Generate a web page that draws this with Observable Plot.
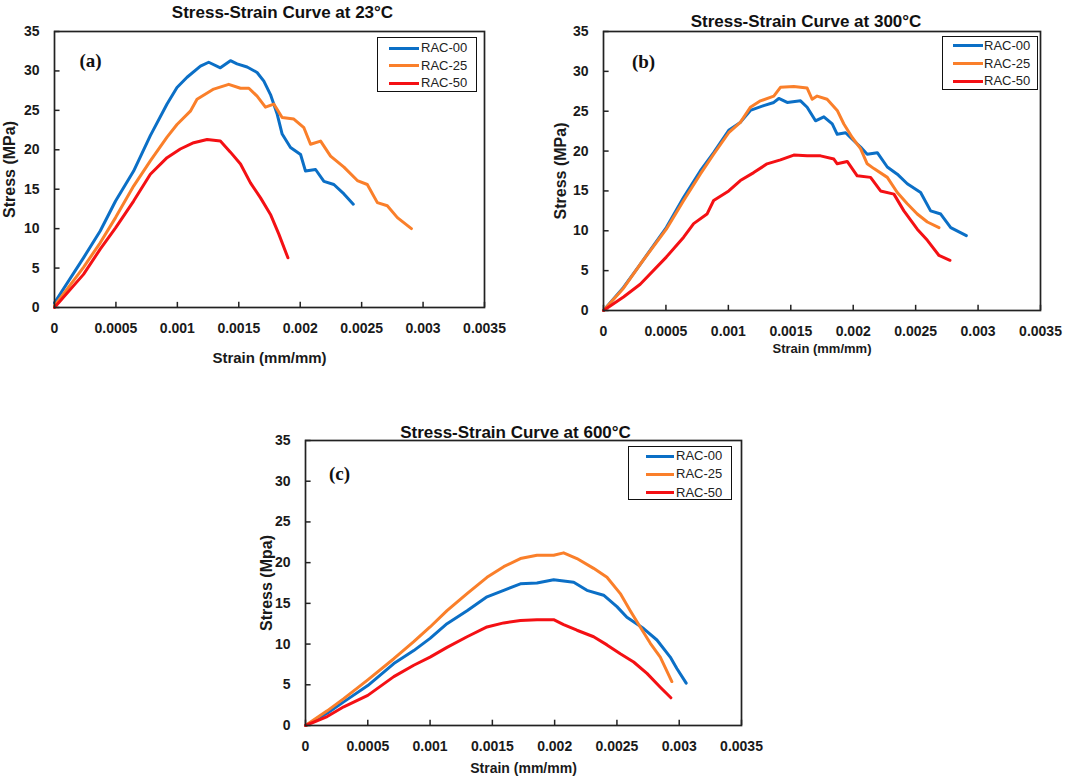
<!DOCTYPE html>
<html>
<head>
<meta charset="utf-8">
<script src="https://cdn.jsdelivr.net/npm/d3@7"></script>
<script src="https://cdn.jsdelivr.net/npm/@observablehq/plot@0.6"></script>
<style>
  body { margin: 0; background: #fff; }
  #wrap { position: relative; width: 1065px; height: 778px; overflow: hidden; background: #fff; }
  .panel { position: absolute; }
  .legend { position: absolute; border: 1.6px solid #111; background: #fff; box-sizing: border-box;
            font-family: "Liberation Sans", Arial, sans-serif; font-size: 13px; color: #222; }
  .legend .ln { position: absolute; height: 3px; }
  .legend .lb { position: absolute; line-height: 14px; }
</style>
</head>
<body>
<div id="wrap"></div>
<script>
// ---------- data ----------
const seriesNames = ["RAC-00", "RAC-25", "RAC-50"];
const seriesColors = ["#0B6FC6", "#FA7F2A", "#F41014"];
const xTicks = [0, 0.0005, 0.001, 0.0015, 0.002, 0.0025, 0.003, 0.0035];
const xTickLabels = ["0", "0.0005", "0.001", "0.0015", "0.002", "0.0025", "0.003", "0.0035"];
const yTicks = [0, 5, 10, 15, 20, 25, 30, 35];
const titles = ["Stress-Strain Curve at 23°C", "Stress-Strain Curve at 300°C", "Stress-Strain Curve at 600°C"];
const panelTags = ["(a)", "(b)", "(c)"];
const xLabels = ["Strain (mm/mm)", "Strain (mm/mm)", "Strain (mm/mm)"];
const yLabels = ["Stress (MPa)", "Stress (MPa)", "Stress (Mpa)"];

// panel (a) 23°C : [strain, stress MPa]
const a_RAC00 = [[0,0.6],[0.000236,6.3],[0.000372,9.7],[0.000497,13.5],[0.000644,17.3],[0.00078,21.8],[0.000916,25.8],[0.000997,27.9],[0.001079,29.2],[0.001188,30.6],[0.001255,31.1],[0.00135,30.4],[0.001432,31.3],[0.001486,30.9],[0.001568,30.5],[0.001649,29.8],[0.001704,28.7],[0.001758,27],[0.001813,24.5],[0.001853,22],[0.001921,20.3],[0.002003,19.4],[0.002043,17.3],[0.002125,17.5],[0.002193,16],[0.002274,15.6],[0.002356,14.4],[0.002432,13.1]];
const a_RAC25 = [[0,0.2],[0.000236,5.1],[0.000372,8.2],[0.000497,11.4],[0.000644,15.4],[0.00078,18.6],[0.000916,21.6],[0.000997,23.2],[0.001106,24.9],[0.00116,26.4],[0.001296,27.7],[0.001418,28.3],[0.001514,27.8],[0.001582,27.8],[0.001649,26.8],[0.001717,25.4],[0.001785,25.8],[0.001853,24.1],[0.001948,23.9],[0.00203,22.8],[0.002084,20.7],[0.002166,21.1],[0.002247,19.2],[0.002356,17.8],[0.002465,16.1],[0.002546,15.6],[0.002628,13.3],[0.002709,12.9],[0.002791,11.4],[0.002905,10.0]];
const a_RAC50 = [[0,0],[0.000236,4.2],[0.000372,7.4],[0.000497,10.1],[0.000644,13.5],[0.00078,16.9],[0.000916,19],[0.001024,20.1],[0.001133,20.9],[0.001242,21.3],[0.00135,21.1],[0.001432,19.7],[0.001514,18.2],[0.001595,15.8],[0.001677,13.9],[0.001758,11.8],[0.001826,9.3],[0.0019,6.3]];

// panel (b) 300°C
const b_RAC00 = [[0,0],[0.00016,2.9],[0.000294,5.8],[0.000503,10.4],[0.000642,14.2],[0.000775,17.5],[0.000882,19.8],[0.001003,22.6],[0.001096,23.6],[0.001176,25.1],[0.001283,25.7],[0.001364,26.1],[0.001404,26.6],[0.001471,26.1],[0.001578,26.3],[0.001631,25.5],[0.001698,23.8],[0.001765,24.3],[0.001832,23.4],[0.001872,22.1],[0.001939,22.3],[0.002005,21.3],[0.002059,20.5],[0.002112,19.6],[0.002193,19.8],[0.002273,18],[0.002353,17.1],[0.002433,15.9],[0.00254,14.8],[0.00262,12.5],[0.002701,12.1],[0.002781,10.4],[0.002906,9.4]];
const b_RAC25 = [[0,0],[0.00016,2.8],[0.000294,5.8],[0.000503,10.2],[0.000642,13.8],[0.000775,17.1],[0.000882,19.6],[0.001003,22.3],[0.001096,23.6],[0.001176,25.5],[0.001257,26.3],[0.001364,26.9],[0.001417,28],[0.001524,28.1],[0.001631,27.9],[0.001671,26.5],[0.001711,26.9],[0.001791,26.5],[0.001872,25.1],[0.001925,23.4],[0.001992,21.7],[0.002059,20.3],[0.002112,18.4],[0.002166,17.8],[0.002273,16.7],[0.002353,14.8],[0.002433,13.4],[0.002513,12.1],[0.002594,11.1],[0.002687,10.4]];
const b_RAC50 = [[0,0],[0.00016,1.7],[0.000294,3.3],[0.000503,6.7],[0.000642,9.2],[0.000722,10.9],[0.000829,12.1],[0.000882,13.8],[0.001003,15],[0.001096,16.3],[0.001203,17.3],[0.00131,18.4],[0.001417,18.9],[0.001524,19.5],[0.001631,19.4],[0.001738,19.4],[0.001845,19],[0.001872,18.4],[0.001952,18.7],[0.002032,16.9],[0.002139,16.7],[0.002219,15],[0.002326,14.6],[0.002406,12.5],[0.002513,10.2],[0.002594,8.8],[0.002687,6.9],[0.002775,6.3]];

// panel (c) 600°C
const c_RAC00 = [[0,0],[0.000174,1.5],[0.000307,2.9],[0.0005,4.9],[0.000709,7.6],[0.000869,9.2],[0.001,10.7],[0.001136,12.5],[0.001297,14.1],[0.001457,15.8],[0.001591,16.6],[0.001725,17.4],[0.001858,17.5],[0.001992,17.9],[0.002153,17.6],[0.002259,16.6],[0.002393,16],[0.0025,14.6],[0.00258,13.3],[0.002714,11.9],[0.002821,10.5],[0.002928,8.4],[0.002981,7],[0.003056,5.2]];
const c_RAC25 = [[0,0],[0.000174,1.8],[0.000307,3.3],[0.0005,5.6],[0.000709,8.2],[0.000869,10.3],[0.001,12.1],[0.001136,14.1],[0.001297,16.2],[0.001457,18.2],[0.001591,19.5],[0.001725,20.5],[0.001858,20.9],[0.001992,20.9],[0.002072,21.2],[0.002179,20.5],[0.002313,19.3],[0.00242,18.2],[0.002527,16.2],[0.002607,14.1],[0.002687,12.1],[0.002768,10.1],[0.002848,8.4],[0.002941,5.4]];
const c_RAC50 = [[0,0],[0.000174,1.1],[0.000307,2.3],[0.0005,3.7],[0.000709,6],[0.000869,7.4],[0.001,8.4],[0.001136,9.6],[0.001297,10.9],[0.001457,12.1],[0.001591,12.6],[0.001725,12.9],[0.001858,13],[0.001992,13],[0.002072,12.4],[0.002179,11.7],[0.002313,10.9],[0.00242,9.9],[0.002527,8.8],[0.002634,7.8],[0.002741,6.4],[0.002848,4.7],[0.002933,3.4]];

const panelSeries = [[a_RAC00, a_RAC25, a_RAC50], [b_RAC00, b_RAC25, b_RAC50], [c_RAC00, c_RAC25, c_RAC50]];

// ---------- layout ----------
const layouts = [
  {left: 0, top: 0, width: 540, height: 375, mL: 54, mR: 56, mT: 31, mB: 68,
   titleDx: 13, titleDy: -19, xlabDy: 51, xlabSize: 15, ylabDx: -45, tagDx: 36, tagDy: 29,
   legend: {left: 377, top: 37, width: 100, height: 55, l1: 11, l2: 41, lb: 43, rows: [10, 27.5, 45]}},
  {left: 540, top: 0, width: 525, height: 375, mL: 63, mR: 25, mT: 31, mB: 65,
   titleDx: -16, titleDy: -10, xlabDy: 38, xlabSize: 13, ylabDx: -43, tagDx: 40, tagDy: 30,
   legend: {left: 942, top: 36, width: 96, height: 54, l1: 10, l2: 40, lb: 41, rows: [8.5, 26.5, 44]}},
  {left: 240, top: 410, width: 540, height: 368, mL: 65, mR: 39, mT: 30, mB: 53,
   titleDx: -8, titleDy: -8, xlabDy: 43, xlabSize: 14, ylabDx: -39, tagDx: 34, tagDy: 33,
   legend: {left: 628, top: 446, width: 104, height: 54, l1: 17, l2: 45, lb: 47, rows: [9, 27.3, 45.7]}}
];

const wrap = document.getElementById("wrap");
const fmtX = d => xTickLabels[xTicks.indexOf(d)];
const centered = {textAnchor: "middle", lineAnchor: "middle"};

layouts.forEach((L, p) => {
  const lines = panelSeries[p].map((s, i) =>
    Plot.line(s, {x: d => d[0], y: d => d[1], stroke: seriesColors[i], strokeWidth: 3, strokeLinejoin: "round"}));
  const chart = Plot.plot({
    width: L.width, height: L.height,
    marginLeft: L.mL, marginRight: L.mR, marginTop: L.mT, marginBottom: L.mB,
    style: {fontFamily: "'Liberation Sans', Arial, sans-serif", color: "#1a1a1a", background: "transparent", overflow: "visible"},
    x: {domain: [0, 0.0035]},
    y: {domain: [0, 35]},
    marks: [
      Plot.axisX({ticks: xTicks, tickFormat: fmtX, tickSize: 0, tickPadding: 16, label: null,
                  fontSize: 14, fontWeight: "bold"}),
      Plot.axisY({ticks: yTicks, tickSize: 0, tickPadding: 15, label: null,
                  fontSize: 14, fontWeight: "bold"}),
      // inward tick marks
      Plot.ruleX(xTicks, {x: d => d, y1: 0, y2: 0.65, stroke: "#222", strokeWidth: 1.5}),
      Plot.ruleY(yTicks, {y: d => d, x1: 0, x2: 0.000045, stroke: "#222", strokeWidth: 1.5}),
      ...lines,
      Plot.frame({stroke: "#222", strokeWidth: 1.7}),
      Plot.text([titles[p]], {...centered, frameAnchor: "top", dx: L.titleDx, dy: L.titleDy, fontSize: 17, fontWeight: "bold", fill: "#111"}),
      Plot.text([xLabels[p]], {...centered, frameAnchor: "bottom", dy: L.xlabDy, fontSize: L.xlabSize, fontWeight: "bold", fill: "#1a1a1a"}),
      Plot.text([yLabels[p]], {...centered, frameAnchor: "left", dx: L.ylabDx, rotate: -90, fontSize: 16, fontWeight: "bold", fill: "#1a1a1a"}),
      Plot.text([panelTags[p]], {...centered, frameAnchor: "top-left", dx: L.tagDx, dy: L.tagDy, fontSize: 19, fontWeight: "bold",
                                 fontFamily: "'Liberation Serif', 'Times New Roman', serif", fill: "#111"})
    ]
  });
  chart.classList.add("panel");
  chart.style.left = L.left + "px";
  chart.style.top = L.top + "px";
  wrap.appendChild(chart);

  // legend box
  const lg = document.createElement("div");
  lg.className = "legend";
  Object.assign(lg.style, {left: L.legend.left + "px", top: L.legend.top + "px", width: L.legend.width + "px", height: L.legend.height + "px"});
  seriesNames.forEach((name, i) => {
    const ln = document.createElement("div");
    ln.className = "ln";
    Object.assign(ln.style, {left: L.legend.l1 + "px", width: (L.legend.l2 - L.legend.l1) + "px",
      top: (L.legend.rows[i] - 1.5) + "px", background: seriesColors[i]});
    const lb = document.createElement("div");
    lb.className = "lb";
    lb.textContent = name;
    Object.assign(lb.style, {left: L.legend.lb + "px", top: (L.legend.rows[i] - 7) + "px"});
    lg.appendChild(ln);
    lg.appendChild(lb);
  });
  wrap.appendChild(lg);
});
</script>
</body>
</html>
